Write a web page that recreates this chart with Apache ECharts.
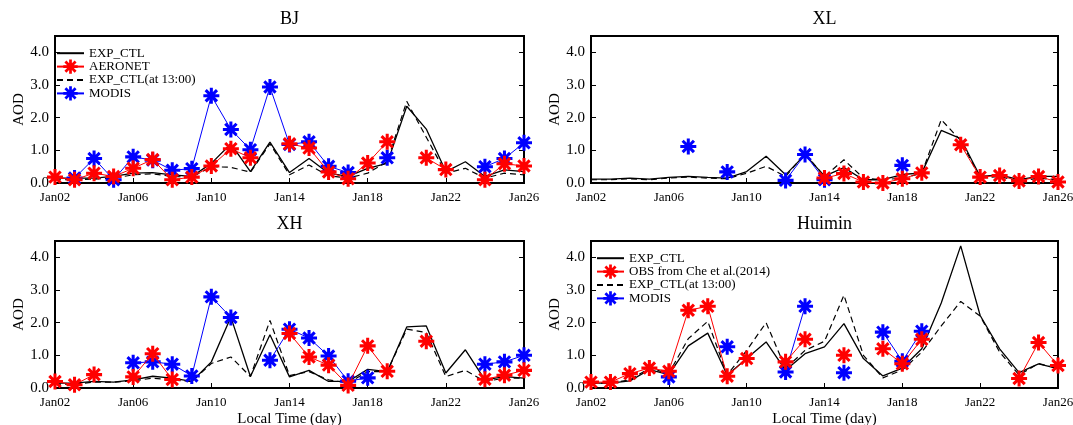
<!DOCTYPE html>
<html>
<head>
<meta charset="utf-8">
<script src="https://cdn.jsdelivr.net/npm/echarts@6/dist/echarts.min.js"></script>
<style>html,body{margin:0;padding:0;background:#fff;}#c{width:1073px;height:425px;}</style>
</head>
<body>
<div id="c"></div>
<script>
// ---------- DATA ----------
const days = ['Jan02','Jan03','Jan04','Jan05','Jan06','Jan07','Jan08','Jan09','Jan10','Jan11','Jan12','Jan13','Jan14','Jan15','Jan16','Jan17','Jan18','Jan19','Jan20','Jan21','Jan22','Jan23','Jan24','Jan25','Jan26'];
const yTicks = [0, 1, 2, 3, 4];
const panelTitles = ['BJ', 'XL', 'XH', 'Huimin'];

const bjCtl   = [0.15,0.15,0.15,0.2,0.3,0.32,0.25,0.2,0.6,1.2,0.35,1.25,0.32,0.75,0.3,0.2,0.45,0.6,2.35,1.65,0.35,0.65,0.2,0.4,0.35];
const bj13    = [0.1,0.1,0.12,0.15,0.25,0.28,0.2,0.18,0.5,0.48,0.33,1.2,0.25,0.55,0.22,0.15,0.3,0.65,2.5,1.4,0.3,0.45,0.15,0.3,0.25];
const bjObs   = [0.18,0.1,0.3,0.2,0.45,0.72,0.1,0.18,0.52,1.05,0.77,null,1.2,1.07,0.34,0.13,0.61,1.26,null,0.77,0.41,null,0.1,0.59,0.52];
const bjModis = [null,0.15,0.75,0.1,0.8,0.7,0.39,0.44,2.67,1.64,1.02,2.94,1.18,1.26,0.51,0.32,null,0.77,null,null,null,null,0.5,0.75,1.23];

const xlCtl   = [0.12,0.12,0.15,0.12,0.17,0.2,0.17,0.15,0.35,0.82,0.25,0.87,0.21,0.47,0.1,0.1,0.26,0.31,1.61,1.36,0.2,0.25,0.1,0.2,0.2];
const xl13    = [0.1,0.1,0.13,0.1,0.15,0.18,0.15,0.13,0.3,0.51,0.2,0.9,0.2,0.71,0.15,0.1,0.15,0.3,1.94,1.3,0.15,0.2,0.05,0.15,0.1];
const xlObs   = [null,null,null,null,null,null,null,null,null,null,null,null,0.15,0.29,0.03,0.0,0.13,0.31,null,1.17,0.18,0.23,0.06,0.2,0.03];
const xlModis = [null,null,null,null,null,1.12,null,0.34,null,null,0.08,0.87,0.1,null,null,null,0.54,null,null,null,null,null,null,null,null];

const xhCtl   = [0.15,0.15,0.2,0.18,0.25,0.36,0.3,0.2,0.8,2.17,0.35,1.63,0.34,0.54,0.2,0.2,0.57,0.5,1.87,1.9,0.46,1.17,0.25,0.35,0.3];
const xh13    = [0.12,0.12,0.18,0.18,0.22,0.3,0.25,0.2,0.75,0.95,0.35,2.07,0.38,0.5,0.25,0.15,0.5,0.5,1.8,1.7,0.35,0.54,0.2,0.3,0.3];
const xhObs   = [0.2,0.1,0.41,null,0.34,1.05,0.26,null,null,null,null,null,1.67,0.95,0.7,0.08,1.29,0.51,null,1.43,null,null,0.27,0.39,0.54];
const xhModis = [null,null,null,null,0.77,0.8,0.73,0.37,2.79,2.16,null,0.85,1.8,1.53,0.98,0.21,0.31,null,null,null,null,null,0.73,0.8,1.0];

const hmCtl   = [0.15,0.15,0.22,0.56,0.41,1.29,1.68,0.39,0.9,1.41,0.54,1.05,1.26,1.97,0.9,0.37,0.61,1.2,2.6,4.35,2.22,1.2,0.47,0.74,0.59];
const hm13    = [0.15,0.15,0.25,0.6,0.45,1.51,2.04,0.4,1.15,2.0,0.6,1.15,1.43,2.84,1.0,0.31,0.55,1.1,1.9,2.65,2.2,1.1,0.4,0.75,0.6];
const hmObs   = [0.18,0.18,0.44,0.61,0.51,2.38,2.5,0.36,0.9,null,0.8,1.49,null,1.0,null,1.2,0.74,1.49,null,null,null,null,0.29,1.39,0.69];
const hmModis = [null,null,null,null,0.34,null,null,1.26,null,null,0.49,2.5,null,0.47,null,1.71,0.82,1.74,null,null,null,null,null,null,null];

// ---------- STYLE / LAYOUT ----------
const FONT = '"Liberation Serif", "Times New Roman", serif';
const RED = '#ff0000', BLUE = '#0000ff';

function asteriskPath(w) {
  let d = '';
  [0, 45, 90, 135].forEach(a => {
    const r = a * Math.PI / 180, dx = Math.cos(r), dy = Math.sin(r);
    const px = -dy * w, py = dx * w;
    const pts = [[dx + px, dy + py], [dx - px, dy - py], [-dx - px, -dy - py], [-dx + px, -dy + py]];
    d += 'M' + pts.map(p => ((p[0] + 1) * 10).toFixed(3) + ' ' + ((p[1] + 1) * 10).toFixed(3)).join('L') + 'Z';
  });
  return 'path://' + d;
}
const ASTER = asteriskPath(0.19);

const grids = [
  {left: 55, top: 36, width: 469, height: 147},
  {left: 591, top: 36, width: 467, height: 147},
  {left: 55, top: 241, width: 469, height: 147},
  {left: 591, top: 241, width: 467, height: 147}
];
const panels = [
  {ctl: bjCtl, c13: bj13, obs: bjObs, modis: bjModis, obsName: 'AERONET'},
  {ctl: xlCtl, c13: xl13, obs: xlObs, modis: xlModis, obsName: 'AERONET'},
  {ctl: xhCtl, c13: xh13, obs: xhObs, modis: xhModis, obsName: 'AERONET'},
  {ctl: hmCtl, c13: hm13, obs: hmObs, modis: hmModis, obsName: 'OBS from Che et al.(2014)'}
];

const xAxes = [], yAxes = [], series = [], graphics = [];
grids.forEach((g, i) => {
  g.show = true; g.borderColor = '#000'; g.borderWidth = 2; g.backgroundColor = 'transparent';
  g.containLabel = false; g.outerBoundsMode = 'none';
  const bottom = i >= 2;
  xAxes.push({
    type: 'category', gridIndex: i, data: days, boundaryGap: false,
    axisLine: {lineStyle: {color: '#000', width: 2}},
    axisTick: {inside: true, interval: 3, length: 5, lineStyle: {color: '#000', width: 1}},
    axisLabel: {interval: 3, color: '#000', fontFamily: FONT, fontSize: 13, margin: 8},
    name: bottom ? 'Local Time (day)' : '', nameLocation: 'middle', nameGap: 24,
    nameTextStyle: {color: '#000', fontFamily: FONT, fontSize: 15}
  });
  yAxes.push({
    type: 'value', gridIndex: i, min: 0, max: 4.5, interval: 1,
    axisLine: {show: true, lineStyle: {color: '#000', width: 2}},
    axisTick: {show: true, inside: true, length: 5, lineStyle: {color: '#000'}},
    splitLine: {show: false},
    axisLabel: {color: '#000', fontFamily: FONT, fontSize: 15, margin: 6, showMaxLabel: false,
      formatter: v => yTicks.indexOf(v) >= 0 ? v.toFixed(1) : ''},
    name: 'AOD', nameLocation: 'middle', nameGap: 27, nameRotate: 90,
    nameTextStyle: {color: '#000', fontFamily: FONT, fontSize: 15}
  });
  yAxes.push({
    type: 'value', gridIndex: i, min: 0, max: 4.5, interval: 1, position: 'right',
    axisLine: {show: true, lineStyle: {color: '#000', width: 2}},
    axisTick: {show: true, inside: true, length: 5, lineStyle: {color: '#000'}},
    splitLine: {show: false}, axisLabel: {show: false}
  });
  const p = panels[i];
  const common = {type: 'line', xAxisIndex: i, yAxisIndex: 2 * i, connectNulls: false, animation: false, showAllSymbol: true};
  series.push(Object.assign({}, common, {
    name: 'EXP_CTL', data: p.ctl, symbol: 'circle', showSymbol: false, z: 2,
    lineStyle: {color: '#000', width: 1.3}, itemStyle: {color: 'rgba(0,0,0,0)', borderWidth: 0}
  }));
  series.push(Object.assign({}, common, {
    name: p.obsName, data: p.obs, symbol: ASTER, symbolSize: 16, z: 4,
    lineStyle: {color: RED, width: 1}, itemStyle: {color: RED}
  }));
  series.push(Object.assign({}, common, {
    name: 'EXP_CTL(at 13:00)', data: p.c13, symbol: 'circle', showSymbol: false, z: 2,
    lineStyle: {color: '#000', width: 1.2, type: [6, 4]}, itemStyle: {color: 'rgba(0,0,0,0)', borderWidth: 0}
  }));
  series.push(Object.assign({}, common, {
    name: 'MODIS', data: p.modis, symbol: ASTER, symbolSize: 16, z: 3,
    lineStyle: {color: BLUE, width: 1}, itemStyle: {color: BLUE}
  }));
  graphics.push({
    type: 'text', x: g.left + g.width / 2, y: g.top - 17,
    style: {text: panelTitles[i], fill: '#000', font: '18px ' + FONT, textAlign: 'center', textVerticalAlign: 'middle'}
  });
});

const legendText = {color: '#000', fontFamily: FONT, fontSize: 13, lineHeight: 13};
const legendBase = {orient: 'vertical', padding: 0, itemWidth: 27, itemHeight: 18, itemGap: -1,
  textStyle: legendText, selectedMode: false};
const option = {
  animation: false,
  backgroundColor: '#fff',
  grid: grids,
  xAxis: xAxes,
  yAxis: yAxes,
  series: series,
  graphic: graphics,
  legend: [
    Object.assign({}, legendBase, {data: ['EXP_CTL', 'AERONET', 'EXP_CTL(at 13:00)', 'MODIS'], left: 56, top: 46}),
    Object.assign({}, legendBase, {data: ['EXP_CTL', 'OBS from Che et al.(2014)', 'EXP_CTL(at 13:00)', 'MODIS'], left: 596, top: 251})
  ]
};
const chart = echarts.init(document.getElementById('c'), null, {renderer: 'canvas'});
chart.setOption(option);
</script>
</body>
</html>
